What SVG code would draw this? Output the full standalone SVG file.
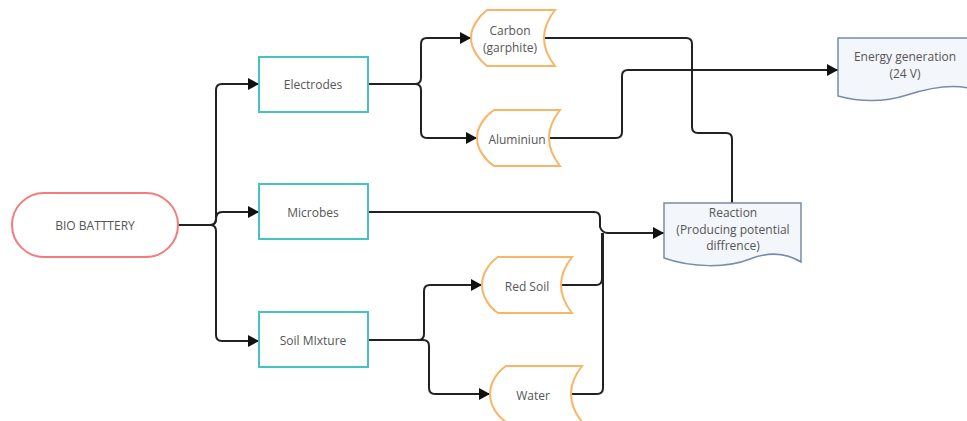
<svg xmlns="http://www.w3.org/2000/svg" width="967" height="421" viewBox="0 0 967 421">
<style>
.t{font-family:"Open Sans","Liberation Sans",sans-serif;font-size:12px;fill:#555;text-anchor:middle;dominant-baseline:central}
.c{fill:none;stroke:#222;stroke-width:2}
.box{fill:#fff;stroke:#45c3bf;stroke-width:2}
.org{fill:#fff;stroke:#f8b565;stroke-width:2}
.doc{fill:#f3f6fb;stroke:#7b8ba8;stroke-width:1.5}
</style>
<defs>
<marker id="ah" markerUnits="userSpaceOnUse" markerWidth="11" markerHeight="12" refX="11" refY="6" orient="auto">
<path d="M0,0 L11,6 L0,12 Z" fill="#111"/>
</marker>
</defs>
<rect width="967" height="421" fill="#fff"/>
<g id="connectors">
<path class="c" d="M178,225 L210,225 Q216,225 216,219 L216,90 Q216,84 222,84 L259,84" marker-end="url(#ah)"/>
<path class="c" d="M210,225 Q216,225 216,219 Q216,212 222,212 L259,212" marker-end="url(#ah)"/>
<path class="c" d="M178,225 L210,225 Q216,225 216,231 L216,335 Q216,341 222,341 L259,341" marker-end="url(#ah)"/>
<path class="c" d="M368,84 L415,84 Q421,84 421,78 L421,44 Q421,38 427,38 L471,38" marker-end="url(#ah)"/>
<path class="c" d="M368,84 L415,84 Q421,84 421,90 L421,132 Q421,138 427,138 L477,138" marker-end="url(#ah)"/>
<path class="c" d="M368,340 L418,340 Q424,340 424,334 L424,291 Q424,285 430,285 L482,285" marker-end="url(#ah)"/>
<path class="c" d="M368,340 L423,340 Q429,340 429,346 L429,388 Q429,394 435,394 L490,394" marker-end="url(#ah)"/>
<path class="c" d="M544,38 L686,38 Q692,38 692,44 L692,127 Q692,133 698,133 L726,133 Q732,133 732,139 L732,203"/>
<path class="c" d="M550,138 L616,138 Q622,138 622,132 L622,76 Q622,70 628,70 L838,70" marker-end="url(#ah)"/>
<path class="c" d="M368,212 L594,212 Q600,212 600,218 L600,227 Q602,233 608,233 L664,233" marker-end="url(#ah)"/>
<path class="c" d="M562,285 L596,285 Q602,285 602,279 L602,233"/>
<path class="c" d="M572,394 L597,394 Q603,394 603,388 L603,233"/>
</g>
<g id="bio-battery">
<rect x="12" y="193" width="166" height="64" rx="32" fill="#fff" stroke="#f27c7c" stroke-width="2"/>
<text class="t" x="95" y="225">BIO BATTTERY</text>
</g>
<g id="electrodes">
<rect class="box" x="259" y="57" width="109" height="55"/>
<text class="t" x="313" y="84">Electrodes</text>
</g>
<g id="microbes">
<rect class="box" x="259" y="184" width="109" height="55"/>
<text class="t" x="313" y="212">Microbes</text>
</g>
<g id="soil-mixture">
<rect class="box" x="259" y="312" width="109" height="55"/>
<text class="t" x="313" y="340">Soil MIxture</text>
</g>
<g id="carbon">
<path class="org" d="M487,10 L555,10 Q533,38 555,66 L487,66 C479,60 471,49 471,38 C471,27 479,16 487,10 Z"/>
<text class="t" x="510" y="30">Carbon</text>
<text class="t" x="510" y="47">(garphite)</text>
</g>
<g id="aluminiun">
<path class="org" d="M494,110 L560,110 Q538,138 560,166 L494,166 C485,160 477,149 477,138 C477,127 485,116 494,110 Z"/>
<text class="t" x="517" y="139">Aluminiun</text>
</g>
<g id="red-soil">
<path class="org" d="M498,257 L572,257 Q550,285 572,313 L498,313 C489,307 482,296 482,285 C482,274 489,263 498,257 Z"/>
<text class="t" x="527" y="286">Red Soil</text>
</g>
<g id="water">
<path class="org" d="M506,366 L582,366 Q560,394 582,422 L506,422 C497,416 490,405 490,394 C490,383 497,372 506,366 Z"/>
<text class="t" x="533" y="395">Water</text>
</g>
<g id="reaction">
<path class="doc" d="M664,203 L801,203 L801,262 C785,252 768,252 750,259 C728,268 692,268 664,258 Z"/>
<text class="t" x="733" y="212">Reaction</text>
<text class="t" x="733" y="229">(Producing potential</text>
<text class="t" x="733" y="245">diffrence)</text>
</g>
<g id="energy-generation">
<path class="doc" d="M838,38 L972,38 L972,89 C955,84 935,86 907,95 C882,103 860,102 838,96 Z"/>
<text class="t" x="905" y="56">Energy generation</text>
<text class="t" x="905" y="73">(24 V)</text>
</g>
</svg>
